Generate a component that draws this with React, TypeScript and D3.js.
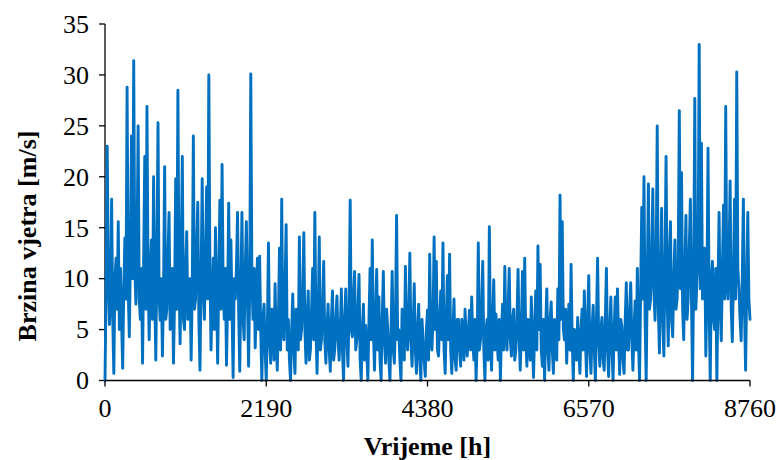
import React from 'react';
import * as d3 from 'd3';

// Wind speed samples, one every SAMPLE_STEP_H hours across the year [m/s]
const speeds: number[] = [
  0, 9, 23, 11, 5.5, 8, 17.8, 6, 0.7, 10, 12, 7, 15.6, 5, 11, 6, 1.2, 9, 14, 8,
  28.8, 9, 4.3, 12, 24, 10, 31.4, 11, 7.5, 13, 25, 8, 6, 11, 1.7, 12, 22, 7, 26.9, 10,
  4, 11, 13.8, 6, 20, 9, 2, 12, 25.3, 8, 5.9, 10, 2.4, 9, 21, 6, 7, 12, 16.5, 5,
  9, 11, 1.7, 8, 19.8, 7, 28.5, 10, 3.6, 12, 22, 6, 5, 11, 14.6, 6, 7, 10, 2, 9,
  24, 7, 8, 13, 17.5, 6, 1, 10, 19.8, 9, 6, 12, 19, 8, 30, 11, 3, 8, 12, 5,
  15, 9, 1.7, 10, 17.7, 7, 21.2, 9, 6, 11, 1.5, 8, 17.4, 6, 13.8, 7, 0.3, 10, 8, 11,
  16.5, 7, 0.9, 9, 16.5, 6, 4, 11, 15.6, 8, 1.4, 9, 30.1, 10, 6, 11, 3.2, 8, 12, 5,
  12.2, 5, 0, 6, 7.5, 3, 0, 5, 13.5, 4, 1.7, 7, 6, 2, 9.5, 4, 1, 6, 13, 3,
  17.8, 5, 4, 9, 15.3, 3, 6, 2, 0, 5, 8.5, 3, 0.7, 7, 6, 3, 14.1, 4, 5, 8,
  14.5, 5, 1.7, 6, 8.8, 2, 3, 7, 11, 4, 16.5, 5, 0.7, 6, 14.1, 3, 4, 7, 11.7, 4,
  1.7, 5, 7.5, 3, 0.9, 6, 8.8, 2, 3, 6, 8.3, 4, 2, 5, 9, 3, 0, 6, 9, 4,
  1.4, 7, 17.7, 5, 4.3, 8, 10.7, 3, 4, 7, 10.4, 2, 0, 5, 7.5, 2, 5.4, 3, 0, 6,
  11, 4, 13.8, 5, 1, 6, 10.9, 3, 8.2, 2, 0, 6, 10.7, 4, 1.7, 7, 5, 2, 0, 5,
  10.7, 3, 1.7, 6, 16.2, 4, 5, 2, 0, 7, 4.9, 2, 11.2, 5, 3, 6, 12.5, 4, 1.4, 5,
  9.5, 3, 0.7, 5, 7.5, 2, 0, 6, 4, 2, 0.4, 5, 6.9, 2, 12.4, 4, 3, 6, 14.1, 5,
  11.7, 3, 2.4, 6, 8.8, 4, 13.5, 3, 0.7, 6, 10.3, 4, 12.4, 3, 0.7, 5, 8, 2, 1, 6,
  6, 3, 1.4, 6, 5, 2, 7, 4, 2.4, 5, 6.9, 3, 8.2, 4, 2, 6, 0, 4, 13.5, 3,
  4, 7, 11.7, 3, 0, 5, 6, 2, 15.1, 4, 1, 6, 9.9, 3, 6.5, 4, 2, 6, 0, 5,
  7.5, 3, 11.2, 5, 3, 7, 11, 4, 2.4, 6, 7, 2, 3, 6, 10.9, 4, 1, 5, 10.7, 3,
  12, 4, 1.4, 6, 5, 2, 8.2, 4, 0.3, 5, 8.8, 3, 13.2, 5, 11.4, 3, 1.4, 6, 0, 5,
  9, 3, 1, 6, 7.7, 3, 0.7, 6, 5, 2, 9, 4, 18.2, 6, 15.6, 5, 4, 7, 1.7, 5,
  7.5, 3, 11.4, 4, 0, 5, 4, 2, 6.2, 3, 0.7, 5, 7, 3, 8.8, 4, 0.4, 6, 10.3, 3,
  0.7, 5, 7.4, 3, 0, 6, 12, 4, 1.4, 5, 6.2, 2, 1, 6, 11, 3, 0.4, 5, 8.2, 3,
  0, 5, 8.2, 3, 9, 4, 0.6, 6, 5.3, 2, 0.7, 6, 9.6, 3, 3, 7, 9.6, 4, 1, 5,
  7.8, 3, 11, 4, 0, 9, 17, 8, 20, 6, 0, 10, 19.3, 7, 8, 12, 18.8, 9, 5.9, 11,
  25, 7, 2.7, 10, 16.9, 6, 2.4, 11, 22, 8, 3.4, 12, 15.6, 6, 4.3, 10, 13.8, 7, 8, 12,
  26.5, 9, 20.4, 7, 4, 11, 16.2, 6, 8, 13, 17.8, 8, 0, 10, 27.7, 7, 10, 12, 33, 9,
  23.3, 8, 10, 13, 2.4, 9, 22.8, 7, 0, 10, 11.7, 6, 5, 11, 0, 9, 16.5, 7, 3.9, 11,
  17.2, 8, 26.9, 10, 8, 12, 19.6, 7, 3.8, 10, 17.8, 8, 30.3, 11, 9, 6, 3.9, 10, 17.8, 7,
  1, 9, 16.5, 8, 6,
];
const SAMPLE_STEP_H = 15;

const xTicks: number[] = [0, 2190, 4380, 6570, 8760];
const yTicks: number[] = [0, 5, 10, 15, 20, 25, 30, 35];
const xTitle = 'Vrijeme [h]';
const yTitle = 'Brzina vjetra [m/s]';

const FONT = "'Liberation Serif', 'Times New Roman', Times, serif";
const LINE_COLOR = '#0070C0';

export default function App() {
  const W = 780;
  const H = 460;
  const plot = { left: 105, right: 750, top: 24, bottom: 380.5 };

  const x = d3.scaleLinear().domain([0, 8760]).range([plot.left, plot.right]);
  const y = d3.scaleLinear().domain([0, 35]).range([plot.bottom, plot.top]);

  const path =
    d3
      .line<number>()
      .x((_, i) => x(i * SAMPLE_STEP_H))
      .y((d) => y(d))(speeds) || '';

  const textStyle: React.CSSProperties = { fontFamily: FONT };

  return (
    <svg
      width={W}
      height={H}
      viewBox={`0 0 ${W} ${H}`}
      style={{ position: 'absolute', left: 0, top: 0, background: '#fff', fontFamily: FONT }}
    >
      <rect x={0} y={0} width={W} height={H} fill="#fff" />

      {/* y axis */}
      <line x1={plot.left} x2={plot.left} y1={y(35)} y2={y(0)} stroke="#000" strokeWidth={1.3} />
      {yTicks.map((t) => (
        <g key={`y${t}`}>
          <line x1={plot.left - 6} x2={plot.left} y1={y(t)} y2={y(t)} stroke="#000" strokeWidth={1.3} />
          <text x={89} y={y(t)} dy="0.34em" textAnchor="end" fontSize={26} fill="#000" style={textStyle}>
            {t}
          </text>
        </g>
      ))}

      {/* series */}
      <path d={path} fill="none" stroke={LINE_COLOR} strokeWidth={2.9} strokeLinejoin="round" strokeLinecap="round" />

      {/* x axis */}
      <line x1={x(0)} x2={x(8760)} y1={plot.bottom} y2={plot.bottom} stroke="#000" strokeWidth={1.5} />
      {xTicks.map((t) => (
        <g key={`x${t}`}>
          <line x1={x(t)} x2={x(t)} y1={plot.bottom} y2={plot.bottom + 6} stroke="#000" strokeWidth={1.3} />
          <text x={x(t)} y={417} textAnchor="middle" fontSize={26} fill="#000" style={textStyle}>
            {t}
          </text>
        </g>
      ))}

      {/* axis titles */}
      <text
        x={(plot.left + plot.right) / 2}
        y={455}
        textAnchor="middle"
        fontSize={26}
        fontWeight="bold"
        fill="#000"
        style={textStyle}
      >
        {xTitle}
      </text>
      <text
        transform="translate(36, 236) rotate(-90)"
        textAnchor="middle"
        fontSize={26}
        fontWeight="bold"
        fill="#000"
        style={textStyle}
      >
        {yTitle}
      </text>
    </svg>
  );
}
